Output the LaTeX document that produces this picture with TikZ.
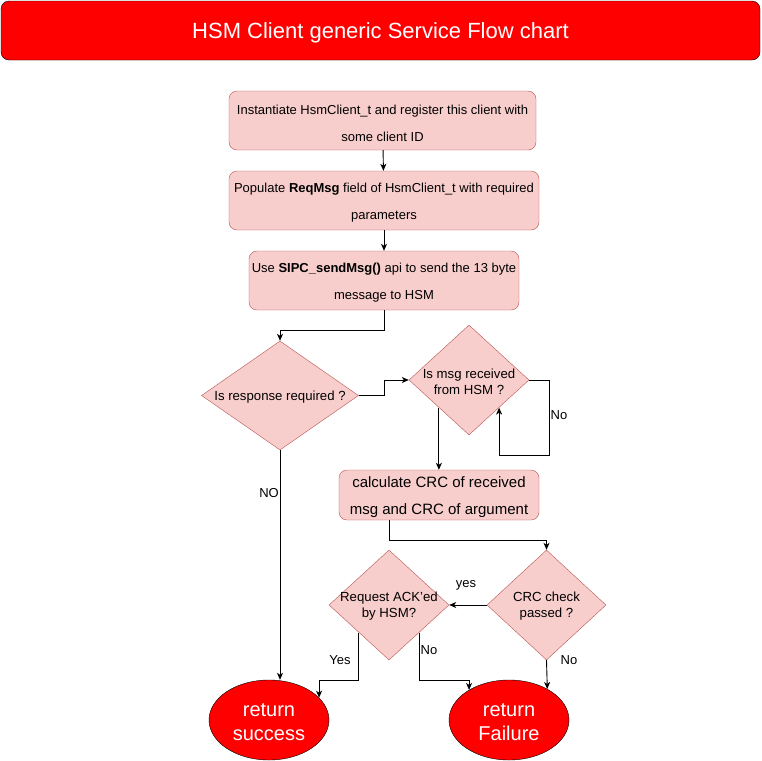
\documentclass[tikz,border=0pt]{standalone}
\usepackage{fontspec}
\setmainfont{Liberation Sans}
\usetikzlibrary{shapes.geometric,arrows.meta,calc}
\definecolor{pinkfill}{HTML}{F8CECC}
\definecolor{pinkdraw}{HTML}{B85450}
\definecolor{topred}{HTML}{FF0000}
\begin{document}
\begin{tikzpicture}[x=1pt,y=-1pt,
  procbox/.style={draw=pinkdraw,fill=pinkfill,rounded corners=8pt,inner sep=0pt},
  ptext/.style={align=center,inner sep=0pt,yshift=-2.5pt,font=\fontsize{13}{27}\selectfont},
  decision/.style={diamond,draw=pinkdraw,fill=pinkfill,inner sep=0pt},
  dtext/.style={align=center,yshift=-1.5pt,font=\fontsize{13.2}{16}\selectfont},
  termnode/.style={ellipse,draw=black,fill=topred,inner sep=0pt,
    minimum width=120pt,minimum height=80pt},
  ttext/.style={align=center,text=white,yshift=-2pt,font=\fontsize{20}{24}\selectfont},
  conn/.style={draw=black,line width=0.9pt,-{Stealth[length=7pt,width=6pt,inset=2pt]}},
  lbl/.style={font=\fontsize{13}{15}\selectfont,inner sep=0pt}]
\useasboundingbox (0,0) rectangle (761,761);
\node[draw=black,fill=topred,rounded corners=8pt,minimum width=759pt,minimum height=59pt,
  label={[text=white,yshift=-2pt,font=\fontsize{22}{25}\selectfont]center:HSM Client generic Service Flow chart}] (title) at (380.5,30.5) {};

\node[procbox,minimum width=307pt,minimum height=59pt,
  label={[ptext]center:Instantiate HsmClient\_t and register this client with\\some client ID}] (b1) at (382.5,120.5) {};
\node[procbox,minimum width=310pt,minimum height=59pt,
  label={[ptext]center:Populate \textbf{ReqMsg} field of HsmClient\_t with required\\parameters}] (b2) at (384,200.5) {};
\node[procbox,minimum width=270pt,minimum height=59pt,
  label={[ptext]center:Use \textbf{SIPC\_sendMsg()} api to send the 13 byte\\message to HSM}] (b3) at (384,280.5) {};

\node[decision,minimum width=157pt,minimum height=109pt,
  label={[dtext]center:Is response required ?}] (d1) at (280,395.5) {};
\node[decision,minimum width=120pt,minimum height=110pt,
  label={[dtext]center:Is msg received\\from HSM ?}] (d2) at (469,380) {};
\node[procbox,minimum width=200pt,minimum height=50pt,
  label={[ptext,font=\fontsize{15}{27}\selectfont]center:calculate CRC of received\\msg and CRC of argument\hspace{4pt}}] (crc) at (439,495) {};
\node[decision,minimum width=119pt,minimum height=110pt,
  label={[dtext]center:CRC check\\passed ?}] (d3) at (546.5,605) {};
\node[decision,minimum width=120pt,minimum height=110pt,
  label={[dtext]center:Request ACK'ed\\by HSM?}] (d4) at (389,605) {};

\node[termnode,label={[ttext]center:return\\success}] (succ) at (269,720) {};
\node[termnode,label={[ttext]center:return\\Failure}] (fail) at (509,720) {};

\coordinate (d2sw) at ($(d2.south)!0.5!(d2.west)$);
\coordinate (d2se) at ($(d2.south)!0.5!(d2.east)$);
\coordinate (d4sw) at ($(d4.south)!0.5!(d4.west)$);
\coordinate (d4se) at ($(d4.south)!0.5!(d4.east)$);
\coordinate (crcout) at ($(crc.south)+(-50,0)$);

\draw[conn] (b1) -- (b2);
\draw[conn] (b2) -- (b3);
\draw[conn] (b3.south) -- ++(0,20) -| (d1.north);
\draw[conn] (d1.east) -- ++(26,0) |- (d2.west);
\draw[conn] (d2.east) -- ++(20,0) -- ++(0,75) -| (d2se);
\draw[conn] (d2sw) -- (d2sw |- crc.north);
\draw[conn] (crcout) -- ++(0,20) -| (d3.north);
\draw[conn] (d3.west) -- (d4.east);
\draw[conn] (d3.south) -- (fail.39);
\draw[conn] (d1.south) -- (d1.south |- succ.north);
\draw[conn] (d4sw) -- ++(0,47.5) -| (succ.24);
\draw[conn] (d4se) -- ++(0,47.5) -| (fail.143);

\node[lbl] (lno1) at (559,415) {No};
\node[lbl] (lno2) at (269,493) {NO};
\node[lbl] (lyes1) at (466,585) {yes};
\node[lbl] (lno3) at (429,650) {No};
\node[lbl] (lyes2) at (340,660) {Yes};
\node[lbl] (lno4) at (569,660) {No};
\end{tikzpicture}
\end{document}
